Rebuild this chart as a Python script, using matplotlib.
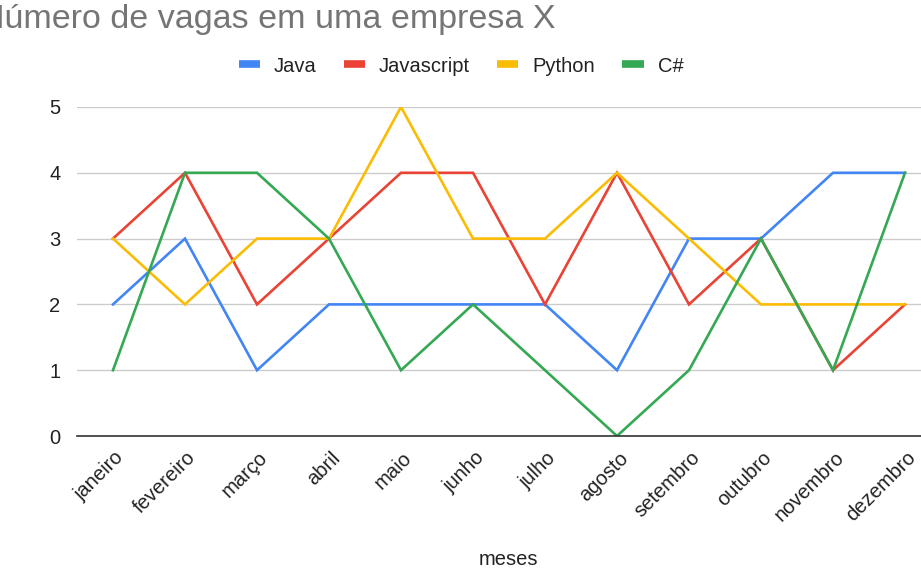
import matplotlib.pyplot as plt
from matplotlib.transforms import ScaledTranslation

plt.rcParams['font.family'] = ['Liberation Sans', 'DejaVu Sans']

meses = ["janeiro", "fevereiro", "março", "abril", "maio", "junho",
         "julho", "agosto", "setembro", "outubro", "novembro", "dezembro"]
java = [2, 3, 1, 2, 2, 2, 2, 1, 3, 3, 4, 4]
javascript = [3, 4, 2, 3, 4, 4, 2, 4, 2, 3, 1, 2]
python = [3, 2, 3, 3, 5, 3, 3, 4, 3, 2, 2, 2]
csharp = [1, 4, 4, 3, 1, 2, 1, 0, 1, 3, 1, 4]

series = [("Java", java, "#4285F4"),
          ("Javascript", javascript, "#EA4335"),
          ("Python", python, "#FBBC04"),
          ("C#", csharp, "#34A853")]

W, H = 921, 569
fig = plt.figure(figsize=(W / 100, H / 100), dpi=100)
# eixo vai alem da borda direita (grafico cortado)
ax = fig.add_axes([77 / W, 133 / H, 864 / W, 329 / H])

x = list(range(len(meses)))
for nome, vals, cor in series:
    ax.plot(x, vals, color=cor, lw=1.9, label=nome, solid_joinstyle="miter")

ax.set_xlim(-0.5, len(meses) - 0.5)
ax.set_ylim(0, 5)
ax.set_yticks(range(6))
ax.grid(axis="y", color="#cccccc", lw=1)
ax.set_axisbelow(True)
for s in ["top", "right", "left"]:
    ax.spines[s].set_visible(False)
ax.spines["bottom"].set_color("#333333")
ax.spines["bottom"].set_linewidth(1.2)
ax.tick_params(length=0, labelsize=14.5, labelcolor="#222222")
ax.tick_params(axis="y", pad=12)

ax.set_xticks(x)
ax.set_xticklabels(meses, rotation=45, ha="right", va="center",
                   rotation_mode="anchor")
off = ScaledTranslation(8 / 100, -14 / 100, fig.dpi_scale_trans)
for lbl in ax.get_xticklabels():
    lbl.set_transform(lbl.get_transform() + off)

fig.text(508 / W, 1 - 565 / H, "meses", ha="center", va="baseline",
         fontsize=14.5, color="#222222")
fig.text(-10 / W, 1 - 252 / H, "vagas", rotation=90, ha="center",
         va="center", fontsize=14.5, color="#222222")

fig.text(-20 / W, 1 - 28 / H, "Número de vagas em uma empresa X",
         ha="left", va="baseline", fontsize=24.5, color="#757575")

leg = fig.legend(loc="center", bbox_to_anchor=(461 / W, 1 - 66 / H), ncol=4,
                 frameon=False, fontsize=14.5, handlelength=1.05,
                 handletextpad=0.7, columnspacing=1.35)
for h in leg.legend_handles:
    h.set_linewidth(5.5)
    h.set_solid_capstyle("butt")
for t in leg.get_texts():
    t.set_color("#222222")

fig.savefig("out.png", dpi=100)
